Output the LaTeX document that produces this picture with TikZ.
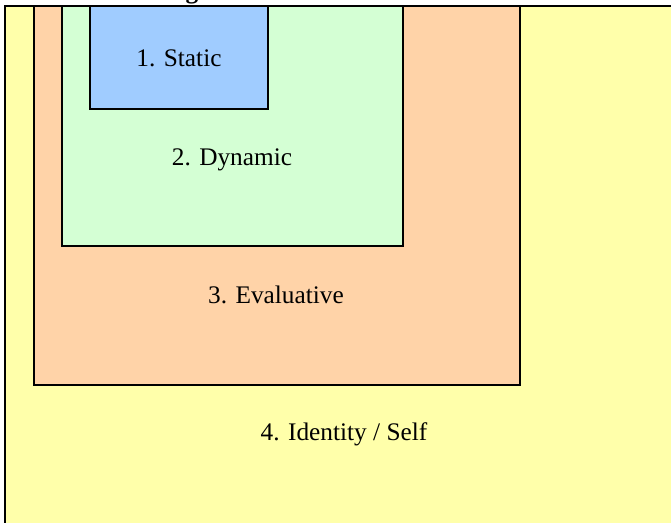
\documentclass[tikz,border=0pt]{standalone}
\usepackage{fontspec}
\setmainfont{Liberation Serif}
\usepackage{xcolor}
\usepackage{tikz}
\definecolor{selfyellow}{RGB}{255,255,170}
\definecolor{evalorange}{RGB}{255,211,168}
\definecolor{dyngreen}{RGB}{212,255,212}
\definecolor{statblue}{RGB}{160,204,255}
\tikzstyle{layer}=[draw=black,line width=1.7pt]
\tikzstyle{label}=[font=\fontsize{18}{21}\selectfont,inner sep=0pt]

\begin{document}
\begin{tikzpicture}[x=0.025cm,y=-0.025cm]
        \useasboundingbox (0,0) rectangle (671,523);
        \clip (0,0) rectangle (671,523);
        \draw [layer,fill=selfyellow] (5,6) rectangle (720,580);
        \draw [layer,fill=evalorange] (34,6) rectangle (520,385);
        \draw [layer,fill=dyngreen] (62,6) rectangle (403,246);
        \draw [layer,fill=statblue] (90,6) rectangle (268,109);
        \node at (192,-1) [label,anchor=base] (title) {\bfseries g};
        \node at (179,67) [label,anchor=base] (static) {1. Static};
        \node at (232,166) [label,anchor=base] (dynamic) {2. Dynamic};
        \node at (276,304) [label,anchor=base] (evaluative) {3. Evaluative};
        \node at (344,441) [label,anchor=base] (self) {4. Identity / Self};
      \end{tikzpicture}
\end{document}
